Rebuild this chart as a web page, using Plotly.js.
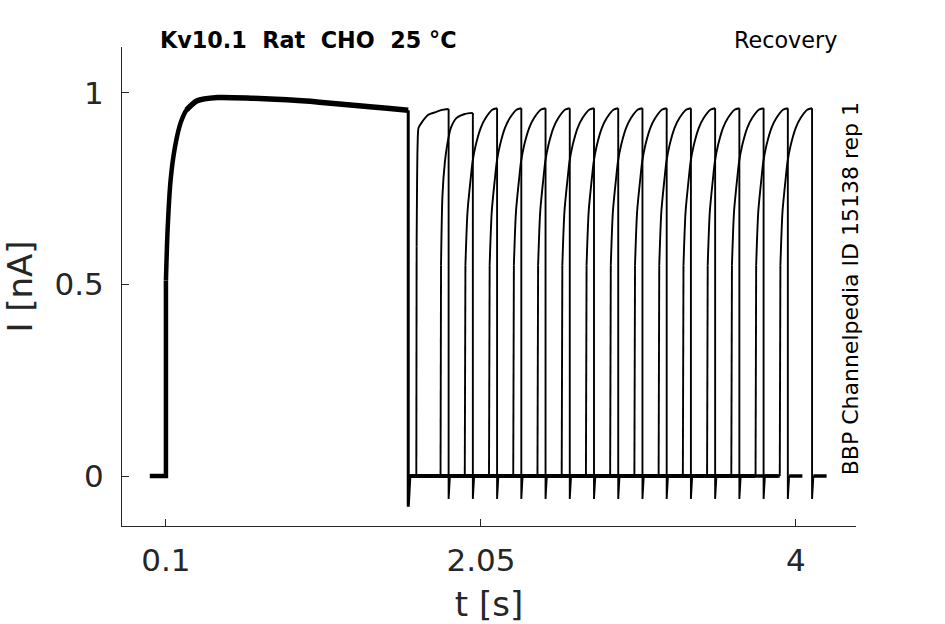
<!DOCTYPE html>
<html>
<head>
<meta charset="utf-8">
<script src="https://cdn.plot.ly/plotly-3.0.1.min.js"></script>
<style>
  html, body { margin: 0; padding: 0; background: #fff; }
  #chart { width: 945px; height: 624px; }
</style>
</head>
<body>
<div id="chart"></div>
<script>
// activation step shared by every sweep: time (s), current (nA)
const stepT = [0, 0.1, 0.1, 0.11, 0.129, 0.156, 0.191, 0.228, 0.29, 0.42, 0.64, 0.85, 1.05, 1.26, 1.47, 1.6];
const stepI = [0, 0, 0.51, 0.64, 0.773, 0.859, 0.922, 0.956, 0.979, 0.988, 0.986, 0.982, 0.976, 0.968, 0.96, 0.955];
const stepTailI = -0.08;

// second (test) pulse of each sweep
const testStart = [1.65, 1.80, 1.95, 2.10, 2.25, 2.40, 2.55, 2.70, 2.85, 3.00, 3.15, 3.30, 3.45, 3.60, 3.75, 3.90];
const testLength = 0.2;
const testTailI = -0.06;
const sweepTail = 0.09;

// test pulse rise, time from pulse start (s) and current (nA)
const riseFastT = [0, 0.002, 0.008, 0.014, 0.035, 0.074, 0.12, 0.159, 0.2];
const riseFastI = [0, 0.6, 0.864, 0.909, 0.924, 0.943, 0.95, 0.956, 0.958];
const riseMidT  = [0, 0.003, 0.012, 0.027, 0.041, 0.064, 0.1, 0.15, 0.2];
const riseMidI  = [0, 0.55, 0.734, 0.82, 0.864, 0.909, 0.935, 0.945, 0.948];
const riseSlowT = [0, 0.004, 0.017, 0.037, 0.048, 0.068, 0.099, 0.13, 0.17, 0.2];
const riseSlowI = [0, 0.55, 0.69, 0.778, 0.82, 0.864, 0.909, 0.935, 0.956, 0.96];

const FONT = 'DejaVu Sans';
const INK = '#262626';

function riseFor(k) {
    if (k === 0) return [riseFastT, riseFastI];
    if (k === 1) return [riseMidT, riseMidI];
    return [riseSlowT, riseSlowI];
}

const line = (x, y, w, shape) => ({
    x, y, type: 'scatter', mode: 'lines',
    line: { color: '#000', width: w, shape: shape || 'linear', smoothing: 0.7 },
    connectgaps: false, hoverinfo: 'skip'
});

const traces = [];
const stepEnd = stepT[stepT.length - 1];

// step: baseline and jump, smooth rise, then the noisy plateau drawn thicker
traces.push(line(stepT.slice(0, 3), stepI.slice(0, 3), 4.5));
traces.push(line(stepT.slice(2, 9), stepI.slice(2, 9), 4.5, 'spline'));
traces.push(line(stepT.slice(7), stepI.slice(7), 5.5, 'spline'));
traces.push(line([stepEnd, stepEnd, stepEnd + 0.01], [stepI[stepI.length - 1], stepTailI, 0], 3));

// holding level between and after the pulses
const baseX = [], baseY = [];
testStart.forEach((s) => {
    baseX.push(stepEnd + 0.01, s, null);
    baseY.push(0, 0, null);
    const e = s + testLength;
    baseX.push(e + 0.008, e + sweepTail, null);
    baseY.push(0, 0, null);
});
traces.push(line(baseX, baseY, 3.5));

// test pulses: jump, smooth rise, tail
testStart.forEach((s, k) => {
    const [rt, ri] = riseFor(k);
    const x = rt.map(t => s + t);
    const e = s + testLength;
    traces.push(line(x.slice(0, 2), ri.slice(0, 2), 1.9));
    traces.push(line(x.slice(1), ri.slice(1), 1.9, 'spline'));
    traces.push(line([e, e, e + 0.008], [ri[ri.length - 1], testTailI, 0], 1.9));
});

const layout = {
    width: 945,
    height: 624,
    margin: { l: 122, r: 89, t: 47, b: 98 },
    paper_bgcolor: '#fff',
    plot_bgcolor: '#fff',
    showlegend: false,
    hovermode: false,
    font: { family: FONT, color: INK },
    xaxis: {
        range: [-0.172, 4.372],
        tickvals: [0.1, 2.05, 4],
        ticktext: ['0.1', '2.05', '4'],
        ticks: 'inside', ticklen: 7, tickwidth: 1, tickcolor: INK,
        showline: true, linecolor: INK, linewidth: 1,
        showgrid: false, zeroline: false,
        tickfont: { family: FONT, size: 31, color: INK },
        ticklabelstandoff: 7,
        title: { text: 't [s]', font: { family: FONT, size: 34, color: INK }, standoff: 18 }
    },
    yaxis: {
        range: [-0.1305, 1.12],
        tickvals: [0, 0.5, 1],
        ticktext: ['0', '0.5', '1'],
        ticks: 'inside', ticklen: 7, tickwidth: 1, tickcolor: INK,
        showline: true, linecolor: INK, linewidth: 1,
        showgrid: false, zeroline: false,
        tickfont: { family: FONT, size: 31, color: INK },
        ticklabelstandoff: 11,
        title: { text: 'I [nA]', font: { family: FONT, size: 34, color: INK }, standoff: 12 }
    },
    annotations: [
        {
            text: '<b>Kv10.1\u00a0\u00a0Rat\u00a0\u00a0CHO\u00a0\u00a025\u00a0°C</b>',
            xref: 'paper', yref: 'paper', x: 0.049, y: 1.0146,
            xanchor: 'left', yanchor: 'middle', showarrow: false,
            font: { family: FONT, size: 22.3, color: '#000' }
        },
        {
            text: 'Recovery',
            xref: 'paper', yref: 'paper', x: 0.977, y: 1.0146,
            xanchor: 'right', yanchor: 'middle', showarrow: false,
            font: { family: FONT, size: 22.3, color: '#000' }
        },
        {
            text: 'BBP Channelpedia ID 15138 rep 1',
            xref: 'paper', yref: 'paper', x: 0.993, y: 0.496,
            xanchor: 'center', yanchor: 'middle', textangle: -90, showarrow: false,
            font: { family: FONT, size: 22, color: '#000' }
        }
    ]
};

Plotly.newPlot('chart', traces, layout, { staticPlot: true, displayModeBar: false });
</script>
</body>
</html>
